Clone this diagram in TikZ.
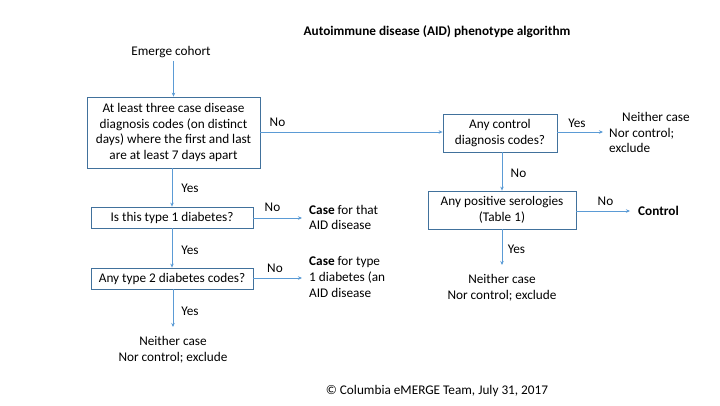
\documentclass[tikz,border=0pt]{standalone}
\usepackage{fontspec}
\setmainfont{Carlito}
\usetikzlibrary{arrows.meta}
\definecolor{boxblue}{HTML}{41719C}
\definecolor{arrowblue}{HTML}{5B9BD5}
\begin{document}
\begin{tikzpicture}[x=1bp,y=-1bp,
  every node/.style={font=\fontsize{13.3}{15.8}\selectfont, text=black},
  box/.style={draw=boxblue, line width=0.8bp, inner sep=0, align=center},
  txt/.style={inner sep=0, align=center},
  lbl/.style={inner sep=0},
  conn/.style={draw=arrowblue, line width=0.8bp, -{Stealth[length=4bp,width=3.5bp]}}
]
\useasboundingbox (0,0) rectangle (720,405);

\node[txt, font=\fontsize{13.3}{15.8}\selectfont\bfseries] (title) at (437,32) {Autoimmune disease (AID) phenotype algorithm};
\node[txt, inner ysep=3bp] (emerge) at (171,52) {Emerge cohort};

\node[box, minimum width=173bp, minimum height=71bp] (b1) at (173.5,132.5)
  {At least three case disease\\diagnosis codes (on distinct\\days) where the first and last\\are at least 7 days apart};
\node[box, minimum width=114bp, minimum height=38bp] (b2) at (500,133)
  {Any control\\diagnosis codes?};
\node[box, minimum width=148bp, minimum height=38bp] (b3) at (502,210)
  {Any positive serologies\\(Table 1)};
\node[box, minimum width=162bp, minimum height=21bp] (b4) at (172,217.5)
  {Is this type 1 diabetes?};
\node[box, minimum width=162bp, minimum height=21bp] (b5) at (172,278.5)
  {Any type 2 diabetes codes?};

\node[lbl, align=left, anchor=west, inner xsep=6bp] (nc1) at (603,132.5)
  {\hspace*{13bp}Neither case\\Nor control;\\exclude};
\node[lbl, anchor=west, inner xsep=8bp, font=\fontsize{13.3}{15.8}\selectfont\bfseries] (ctrl) at (630,211) {Control};
\node[txt, inner ysep=9bp] (nc2) at (502,287.5) {Neither case\\Nor control; exclude};
\node[lbl, align=left, anchor=west, inner xsep=7bp] (case1) at (302,217.5)
  {\textbf{Case} for that\\AID disease};
\node[lbl, align=left, anchor=west, inner xsep=7bp] (case2) at (302,277)
  {\textbf{Case} for type\\1 diabetes (an\\AID disease};
\node[txt, inner ysep=9bp] (nc3) at (173,349.5) {Neither case\\Nor control; exclude};

\node[txt] (copy) at (437,391) {© Columbia eMERGE Team, July 31, 2017};

% connectors
\draw[conn] (emerge.south -| b1.north) -- (b1.north);
\draw[conn] (b1.east |- 0,132) -- (b2.west |- 0,132);
\draw[conn] (b2.east |- 0,132) -- (nc1.west |- 0,132);
\draw[conn] (b2.south -| b3.north) -- (b3.north);
\draw[conn] (b3.east |- 0,211) -- (ctrl.west |- 0,211);
\draw[conn] (b3.south) -- (nc2.north);
\draw[conn] (b1.south -| b4.north) -- (b4.north);
\draw[conn] (b4.east |- 0,218) -- (case1.west |- 0,218);
\draw[conn] (b4.south) -- (b5.north);
\draw[conn] (b5.east |- 0,278) -- (case2.west |- 0,278);
\draw[conn] (b5.south -| nc3.north) -- (nc3.north);

% labels
\node[lbl] (l1) at (277.5,122) {No};
\node[lbl] (l2) at (577,123) {Yes};
\node[lbl] (l3) at (518.5,173) {No};
\node[lbl] (l4) at (605.5,201) {No};
\node[lbl] (l5) at (516.5,249) {Yes};
\node[lbl] (l6) at (190,188) {Yes};
\node[lbl] (l7) at (272.5,207) {No};
\node[lbl] (l8) at (190,250) {Yes};
\node[lbl] (l9) at (275,268) {No};
\node[lbl] (l10) at (190,311) {Yes};
\end{tikzpicture}
\end{document}
